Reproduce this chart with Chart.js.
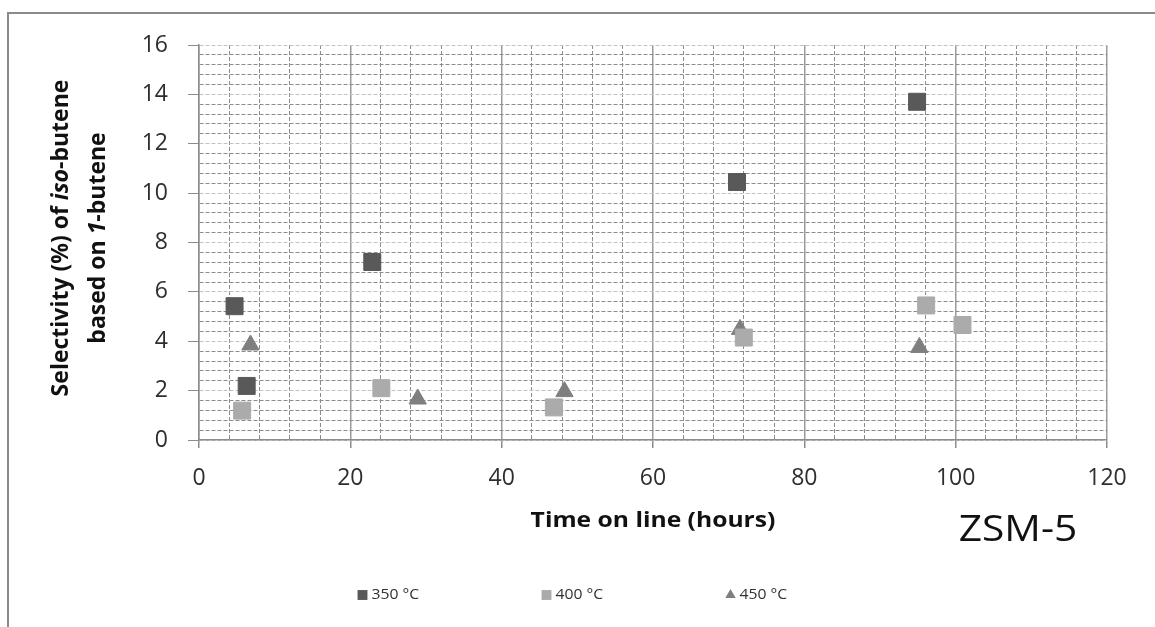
<!DOCTYPE html>
<html>
<head>
<meta charset="utf-8">
<title>Selectividad iso-buteno ZSM-5</title>
<script src="https://cdn.jsdelivr.net/npm/chart.js@4/dist/chart.umd.min.js"></script>
<style>
  body { margin: 0; background: #fff; overflow: hidden; }
  #marco { position: absolute; left: 7px; top: 12px; width: 1300px; height: 800px;
           border-top: 2px solid #8a8a8a; border-left: 2px solid #8a8a8a; }
  canvas { position: absolute; left: 0; top: 0; }
</style>
</head>
<body>
<div id="marco"></div>
<canvas id="grafico" width="1155" height="627"></canvas>
<script>
// datos
const series = ['350 °C', '400 °C', '450 °C'];
const x350 = [4.7, 6.3, 22.9, 71.1, 94.9];
const y350 = [5.42, 2.19, 7.21, 10.45, 13.7];
const x400 = [5.7, 24.1, 46.9, 72.0, 96.1, 100.9];
const y400 = [1.19, 2.1, 1.32, 4.15, 5.45, 4.66];
const x450 = [6.8, 28.9, 48.3, 71.5, 95.2];
const y450 = [3.85, 1.66, 1.96, 4.48, 3.75];

const xTicksMayores = [0, 20, 40, 60, 80, 100, 120];
const yTicksMayores = [0, 2, 4, 6, 8, 10, 12, 14, 16];

const colores = ['#595959', '#ababab', '#7f7f7f'];
const estilos = ['rect', 'rect', 'triangle'];
const radios = [12, 12, 10];

const fuente = "'Open Sans', 'Noto Sans', sans-serif";

const puntos = (xs, ys) => xs.map((x, i) => ({ x: x, y: ys[i] }));
const esMayor = (v, lista) => lista.some(m => Math.abs(m - v) < 1e-6);

const datos = [puntos(x350, y350), puntos(x400, y400), puntos(x450, y450)];

// texto ensanchado un poco en horizontal, como en la figura original
function textoAncho(ctx, txt, x, y, esc) {
  ctx.save();
  ctx.translate(x, y);
  ctx.scale(esc, 1);
  ctx.fillText(txt, 0, 0);
  ctx.restore();
}

// títulos, etiqueta ZSM-5 y leyenda dibujados a mano
const textos = {
  id: 'textos',
  afterDraw(chart) {
    const ctx = chart.ctx;
    const a = chart.chartArea;
    ctx.save();
    ctx.fillStyle = '#111';
    ctx.textBaseline = 'middle';

    // título eje y, con partes en cursiva
    const lineas = [
      [['Selectivity (%) of ', false], ['iso', true], ['-butene', false]],
      [['based on ', false], ['1', true], ['-butene', false]]
    ];
    const xs = [61, 98];
    const fnt = it => (it ? 'italic ' : '') + 'bold 23px ' + fuente;
    lineas.forEach((partes, k) => {
      ctx.save();
      ctx.translate(xs[k], 238);
      ctx.rotate(-Math.PI / 2);
      let total = 0;
      partes.forEach(p => { ctx.font = fnt(p[1]); total += ctx.measureText(p[0]).width; });
      let cx = -total / 2;
      ctx.textAlign = 'left';
      partes.forEach(p => {
        ctx.font = fnt(p[1]);
        ctx.fillText(p[0], cx, 0);
        cx += ctx.measureText(p[0]).width;
      });
      ctx.restore();
    });

    // título eje x
    ctx.textAlign = 'center';
    ctx.font = 'bold 22px ' + fuente;
    textoAncho(ctx, 'Time on line (hours)', (a.left + a.right) / 2, 521, 1.12);

    // etiqueta del catalizador
    ctx.font = '37px ' + fuente;
    textoAncho(ctx, 'ZSM-5', 1018, 530, 1.1);

    // leyenda
    const paso = 184;
    const x0 = chart.width / 2 - paso - 31;
    ctx.font = '15px ' + fuente;
    ctx.textAlign = 'left';
    chart.data.datasets.forEach((ds, i) => {
      const mx = x0 + i * paso;
      ctx.fillStyle = ds.backgroundColor;
      ctx.strokeStyle = ds.backgroundColor;
      Chart.helpers.drawPoint(ctx, { pointStyle: ds.pointStyle, radius: ds.pointStyle === 'triangle' ? 6 : 7, borderWidth: 0, rotation: 0 }, mx, 595);
      ctx.fillStyle = '#333';
      textoAncho(ctx, ds.label, mx + 9, 595, 1.05);
    });
    ctx.restore();
  }
};

new Chart(document.getElementById('grafico'), {
  type: 'scatter',
  data: {
    datasets: series.map((s, i) => ({
      label: s,
      data: datos[i],
      backgroundColor: colores[i],
      borderColor: colores[i],
      borderWidth: 1,
      pointStyle: estilos[i],
      pointRadius: radios[i],
      pointHoverRadius: radios[i]
    }))
  },
  options: {
    responsive: false,
    animation: false,
    layout: { padding: { left: 0, top: 45, right: 48, bottom: 0 } },
    plugins: { legend: { display: false }, tooltip: { enabled: false } },
    scales: {
      x: {
        type: 'linear', min: 0, max: 120,
        ticks: {
          stepSize: 4, autoSkip: false, maxRotation: 0, minRotation: 0, padding: 17,
          color: '#2e2e2e', font: { family: fuente, size: 23 },
          callback: v => esMayor(v, xTicksMayores) ? Math.round(v) : ''
        },
        grid: {
          color: c => c.tick && esMayor(c.tick.value, xTicksMayores) ? '#9a9a9a' : '#8c8c8c',
          lineWidth: c => c.tick && esMayor(c.tick.value, xTicksMayores) ? 1.5 : 1,
          tickLength: 8,
          tickColor: c => c.tick && esMayor(c.tick.value, xTicksMayores) ? '#8c8c8c' : 'rgba(0,0,0,0)'
        },
        border: {
          color: '#8c8c8c', width: 1.5,
          dash: c => c.tick && esMayor(c.tick.value, xTicksMayores) ? [] : [4, 2]
        },
        afterFit: s => { s.height = 187; }
      },
      y: {
        min: 0, max: 16,
        ticks: {
          stepSize: 0.4, autoSkip: false, padding: 20,
          color: '#2e2e2e', font: { family: fuente, size: 23 },
          callback: v => esMayor(v, yTicksMayores) ? Math.round(v) : ''
        },
        grid: {
          color: c => c.tick && esMayor(c.tick.value, yTicksMayores) ? '#c2c2c2' : '#8c8c8c',
          lineWidth: 1,
          tickLength: 11,
          tickColor: c => c.tick && esMayor(c.tick.value, yTicksMayores) ? '#8c8c8c' : 'rgba(0,0,0,0)'
        },
        border: { color: '#8c8c8c', width: 1.5, dash: [4, 2] },
        afterFit: s => { s.width = 199; }
      }
    }
  },
  plugins: [textos]
});
</script>
</body>
</html>
